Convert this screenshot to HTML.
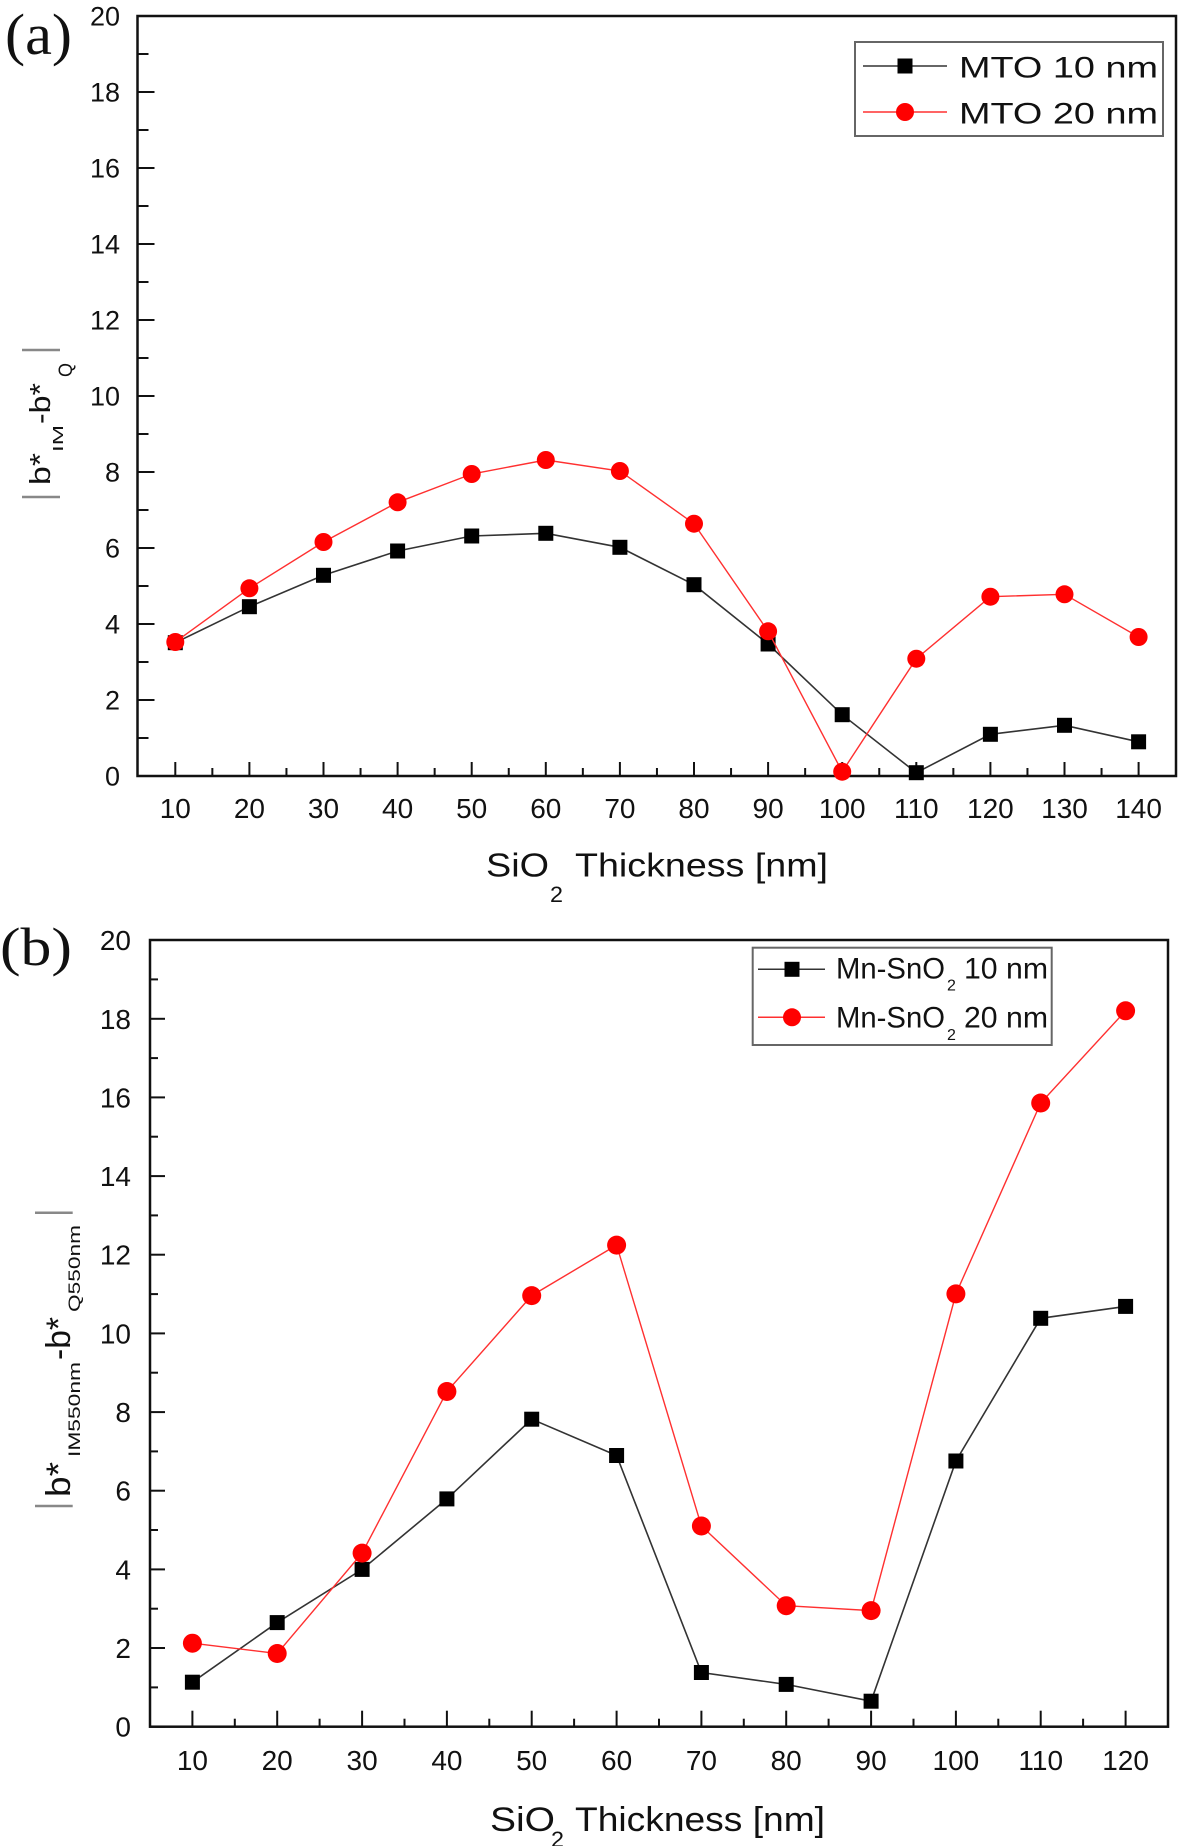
<!DOCTYPE html>
<html>
<head>
<meta charset="utf-8">
<style>
  html,body{margin:0;padding:0;background:#fff;}
  svg{display:block;}
  text{font-family:"Liberation Sans", Arial, sans-serif;fill:#111;}
  .serif{font-family:"Liberation Serif", "Times New Roman", serif;}
</style>
</head>
<body>
<svg width="1181" height="1846" viewBox="0 0 1181 1846" xmlns="http://www.w3.org/2000/svg">
  <rect x="0" y="0" width="1181" height="1846" fill="#fff"/>

  <!-- ================= PANEL (a) ================= -->
  <text class="serif" x="5" y="54" font-size="58" textLength="67" lengthAdjust="spacingAndGlyphs">(a)</text>

  <rect x="137.5" y="16" width="1038.5" height="760" fill="none" stroke="#111" stroke-width="2.5"/>

  <g stroke="#111" stroke-width="2">
    <line x1="137.5" y1="776" x2="154.5" y2="776"/>
    <line x1="137.5" y1="738" x2="148.5" y2="738"/>
    <line x1="137.5" y1="700" x2="154.5" y2="700"/>
    <line x1="137.5" y1="662" x2="148.5" y2="662"/>
    <line x1="137.5" y1="624" x2="154.5" y2="624"/>
    <line x1="137.5" y1="586" x2="148.5" y2="586"/>
    <line x1="137.5" y1="548" x2="154.5" y2="548"/>
    <line x1="137.5" y1="510" x2="148.5" y2="510"/>
    <line x1="137.5" y1="472" x2="154.5" y2="472"/>
    <line x1="137.5" y1="434" x2="148.5" y2="434"/>
    <line x1="137.5" y1="396" x2="154.5" y2="396"/>
    <line x1="137.5" y1="358" x2="148.5" y2="358"/>
    <line x1="137.5" y1="320" x2="154.5" y2="320"/>
    <line x1="137.5" y1="282" x2="148.5" y2="282"/>
    <line x1="137.5" y1="244" x2="154.5" y2="244"/>
    <line x1="137.5" y1="206" x2="148.5" y2="206"/>
    <line x1="137.5" y1="168" x2="154.5" y2="168"/>
    <line x1="137.5" y1="130" x2="148.5" y2="130"/>
    <line x1="137.5" y1="92" x2="154.5" y2="92"/>
    <line x1="137.5" y1="54" x2="148.5" y2="54"/>
  </g>
  <g stroke="#111" stroke-width="2">
    <line x1="175.3" y1="776" x2="175.3" y2="762"/>
    <line x1="249.4" y1="776" x2="249.4" y2="762"/>
    <line x1="323.5" y1="776" x2="323.5" y2="762"/>
    <line x1="397.6" y1="776" x2="397.6" y2="762"/>
    <line x1="471.7" y1="776" x2="471.7" y2="762"/>
    <line x1="545.8" y1="776" x2="545.8" y2="762"/>
    <line x1="619.9" y1="776" x2="619.9" y2="762"/>
    <line x1="694.0" y1="776" x2="694.0" y2="762"/>
    <line x1="768.1" y1="776" x2="768.1" y2="762"/>
    <line x1="842.2" y1="776" x2="842.2" y2="762"/>
    <line x1="916.3" y1="776" x2="916.3" y2="762"/>
    <line x1="990.4" y1="776" x2="990.4" y2="762"/>
    <line x1="1064.5" y1="776" x2="1064.5" y2="762"/>
    <line x1="1138.6" y1="776" x2="1138.6" y2="762"/>
    <line x1="212.35" y1="776" x2="212.35" y2="768"/>
    <line x1="286.45" y1="776" x2="286.45" y2="768"/>
    <line x1="360.55" y1="776" x2="360.55" y2="768"/>
    <line x1="434.65" y1="776" x2="434.65" y2="768"/>
    <line x1="508.75" y1="776" x2="508.75" y2="768"/>
    <line x1="582.85" y1="776" x2="582.85" y2="768"/>
    <line x1="656.95" y1="776" x2="656.95" y2="768"/>
    <line x1="731.05" y1="776" x2="731.05" y2="768"/>
    <line x1="805.15" y1="776" x2="805.15" y2="768"/>
    <line x1="879.25" y1="776" x2="879.25" y2="768"/>
    <line x1="953.35" y1="776" x2="953.35" y2="768"/>
    <line x1="1027.45" y1="776" x2="1027.45" y2="768"/>
    <line x1="1101.55" y1="776" x2="1101.55" y2="768"/>
  </g>

  <g font-size="27" text-anchor="end">
    <text x="120" y="785.5">0</text>
    <text x="120" y="709.5">2</text>
    <text x="120" y="633.5">4</text>
    <text x="120" y="557.5">6</text>
    <text x="120" y="481.5">8</text>
    <text x="120" y="405.5">10</text>
    <text x="120" y="329.5">12</text>
    <text x="120" y="253.5">14</text>
    <text x="120" y="177.5">16</text>
    <text x="120" y="101.5">18</text>
    <text x="120" y="25.5">20</text>
  </g>
  <g font-size="28" text-anchor="middle">
    <text x="175.3" y="818">10</text>
    <text x="249.4" y="818">20</text>
    <text x="323.5" y="818">30</text>
    <text x="397.6" y="818">40</text>
    <text x="471.7" y="818">50</text>
    <text x="545.8" y="818">60</text>
    <text x="619.9" y="818">70</text>
    <text x="694.0" y="818">80</text>
    <text x="768.1" y="818">90</text>
    <text x="842.2" y="818">100</text>
    <text x="916.3" y="818">110</text>
    <text x="990.4" y="818">120</text>
    <text x="1064.5" y="818">130</text>
    <text x="1138.6" y="818">140</text>
  </g>

  <text x="486" y="876.7" font-size="33" textLength="63" lengthAdjust="spacingAndGlyphs">SiO</text>
  <text x="550" y="902" font-size="22" textLength="13" lengthAdjust="spacingAndGlyphs">2</text>
  <text x="575" y="876.7" font-size="33" textLength="253" lengthAdjust="spacingAndGlyphs">Thickness [nm]</text>

  <g stroke="#888" stroke-width="2.5">
    <line x1="22" y1="350" x2="60" y2="350"/>
    <line x1="22" y1="497" x2="60" y2="497"/>
  </g>
  <text transform="translate(50,485) rotate(-90)" font-size="29" textLength="32" lengthAdjust="spacingAndGlyphs">b*</text>
  <text transform="translate(63,452) rotate(-90)" font-size="15" textLength="27" lengthAdjust="spacingAndGlyphs">IM</text>
  <text transform="translate(50,424) rotate(-90)" font-size="29" textLength="41" lengthAdjust="spacingAndGlyphs">-b*</text>
  <text transform="translate(72,377) rotate(-90)" font-size="19" textLength="14" lengthAdjust="spacingAndGlyphs">Q</text>

  <polyline fill="none" stroke="#333" stroke-width="1.6"
    points="175.3,642.7 249.4,606.7 323.5,575.3 397.6,551 471.7,536 545.8,533.3 619.9,547.3 694.0,584.7 768.1,644 842.2,714.7 916.3,772.7 990.4,734.3 1064.5,725.3 1138.6,741.8"/>
  <g fill="#000">
    <rect x="167.8" y="635.2" width="15" height="15"/>
    <rect x="241.9" y="599.2" width="15" height="15"/>
    <rect x="316.0" y="567.8" width="15" height="15"/>
    <rect x="390.1" y="543.5" width="15" height="15"/>
    <rect x="464.2" y="528.5" width="15" height="15"/>
    <rect x="538.3" y="525.8" width="15" height="15"/>
    <rect x="612.4" y="539.8" width="15" height="15"/>
    <rect x="686.5" y="577.2" width="15" height="15"/>
    <rect x="760.6" y="636.5" width="15" height="15"/>
    <rect x="834.7" y="707.2" width="15" height="15"/>
    <rect x="908.8" y="765.2" width="15" height="15"/>
    <rect x="982.9" y="726.8" width="15" height="15"/>
    <rect x="1057.0" y="717.8" width="15" height="15"/>
    <rect x="1131.1" y="734.3" width="15" height="15"/>
  </g>
  <polyline fill="none" stroke="#ff3030" stroke-width="1.4"
    points="175.3,642 249.4,588.3 323.5,542 397.6,502.3 471.7,474 545.8,460 619.9,471 694.0,523.7 768.1,631.3 842.2,771.7 916.3,658.7 990.4,596.7 1064.5,594.3 1138.6,637"/>
  <g fill="#ff0000">
    <circle cx="175.3" cy="642" r="9"/>
    <circle cx="249.4" cy="588.3" r="9"/>
    <circle cx="323.5" cy="542" r="9"/>
    <circle cx="397.6" cy="502.3" r="9"/>
    <circle cx="471.7" cy="474" r="9"/>
    <circle cx="545.8" cy="460" r="9"/>
    <circle cx="619.9" cy="471" r="9"/>
    <circle cx="694.0" cy="523.7" r="9"/>
    <circle cx="768.1" cy="631.3" r="9"/>
    <circle cx="842.2" cy="771.7" r="9"/>
    <circle cx="916.3" cy="658.7" r="9"/>
    <circle cx="990.4" cy="596.7" r="9"/>
    <circle cx="1064.5" cy="594.3" r="9"/>
    <circle cx="1138.6" cy="637" r="9"/>
  </g>

  <rect x="855" y="42" width="308" height="94" fill="#fff" stroke="#666" stroke-width="2"/>
  <line x1="863" y1="66" x2="947" y2="66" stroke="#333" stroke-width="1.5"/>
  <rect x="897.5" y="58.5" width="15" height="15" fill="#000"/>
  <line x1="863" y1="112" x2="947" y2="112" stroke="#ff3030" stroke-width="1.5"/>
  <circle cx="905" cy="112" r="9" fill="#ff0000"/>
  <text x="959" y="77.3" font-size="30" textLength="199" lengthAdjust="spacingAndGlyphs">MTO 10 nm</text>
  <text x="959" y="123.3" font-size="30" textLength="199" lengthAdjust="spacingAndGlyphs">MTO 20 nm</text>

  <!-- ================= PANEL (b) ================= -->
  <text class="serif" x="0" y="965" font-size="54" textLength="72" lengthAdjust="spacingAndGlyphs">(b)</text>

  <rect x="150" y="940" width="1018" height="786.7" fill="none" stroke="#111" stroke-width="2.5"/>

  <g stroke="#111" stroke-width="2">
    <line x1="150" y1="1726.7" x2="165" y2="1726.7"/>
    <line x1="150" y1="1687.4" x2="158" y2="1687.4"/>
    <line x1="150" y1="1648.0" x2="165" y2="1648.0"/>
    <line x1="150" y1="1608.7" x2="158" y2="1608.7"/>
    <line x1="150" y1="1569.4" x2="165" y2="1569.4"/>
    <line x1="150" y1="1530.0" x2="158" y2="1530.0"/>
    <line x1="150" y1="1490.7" x2="165" y2="1490.7"/>
    <line x1="150" y1="1451.4" x2="158" y2="1451.4"/>
    <line x1="150" y1="1412.1" x2="165" y2="1412.1"/>
    <line x1="150" y1="1372.7" x2="158" y2="1372.7"/>
    <line x1="150" y1="1333.4" x2="165" y2="1333.4"/>
    <line x1="150" y1="1294.1" x2="158" y2="1294.1"/>
    <line x1="150" y1="1254.7" x2="165" y2="1254.7"/>
    <line x1="150" y1="1215.4" x2="158" y2="1215.4"/>
    <line x1="150" y1="1176.1" x2="165" y2="1176.1"/>
    <line x1="150" y1="1136.7" x2="158" y2="1136.7"/>
    <line x1="150" y1="1097.4" x2="165" y2="1097.4"/>
    <line x1="150" y1="1058.1" x2="158" y2="1058.1"/>
    <line x1="150" y1="1018.8" x2="165" y2="1018.8"/>
    <line x1="150" y1="979.4" x2="158" y2="979.4"/>
  </g>
  <g stroke="#111" stroke-width="2">
    <line x1="192.4" y1="1726.7" x2="192.4" y2="1710.7"/>
    <line x1="277.2" y1="1726.7" x2="277.2" y2="1710.7"/>
    <line x1="362.1" y1="1726.7" x2="362.1" y2="1710.7"/>
    <line x1="446.9" y1="1726.7" x2="446.9" y2="1710.7"/>
    <line x1="531.7" y1="1726.7" x2="531.7" y2="1710.7"/>
    <line x1="616.6" y1="1726.7" x2="616.6" y2="1710.7"/>
    <line x1="701.4" y1="1726.7" x2="701.4" y2="1710.7"/>
    <line x1="786.2" y1="1726.7" x2="786.2" y2="1710.7"/>
    <line x1="871.1" y1="1726.7" x2="871.1" y2="1710.7"/>
    <line x1="955.9" y1="1726.7" x2="955.9" y2="1710.7"/>
    <line x1="1040.7" y1="1726.7" x2="1040.7" y2="1710.7"/>
    <line x1="1125.6" y1="1726.7" x2="1125.6" y2="1710.7"/>
    <line x1="234.8" y1="1726.7" x2="234.8" y2="1718.7"/>
    <line x1="319.6" y1="1726.7" x2="319.6" y2="1718.7"/>
    <line x1="404.5" y1="1726.7" x2="404.5" y2="1718.7"/>
    <line x1="489.3" y1="1726.7" x2="489.3" y2="1718.7"/>
    <line x1="574.1" y1="1726.7" x2="574.1" y2="1718.7"/>
    <line x1="659.0" y1="1726.7" x2="659.0" y2="1718.7"/>
    <line x1="743.8" y1="1726.7" x2="743.8" y2="1718.7"/>
    <line x1="828.6" y1="1726.7" x2="828.6" y2="1718.7"/>
    <line x1="913.5" y1="1726.7" x2="913.5" y2="1718.7"/>
    <line x1="998.3" y1="1726.7" x2="998.3" y2="1718.7"/>
    <line x1="1083.1" y1="1726.7" x2="1083.1" y2="1718.7"/>
  </g>

  <g font-size="28" text-anchor="end">
    <text x="131" y="1736.7">0</text>
    <text x="131" y="1658.0">2</text>
    <text x="131" y="1579.4">4</text>
    <text x="131" y="1500.7">6</text>
    <text x="131" y="1422.1">8</text>
    <text x="131" y="1343.4">10</text>
    <text x="131" y="1264.7">12</text>
    <text x="131" y="1186.1">14</text>
    <text x="131" y="1107.4">16</text>
    <text x="131" y="1028.8">18</text>
    <text x="131" y="950.1">20</text>
  </g>
  <g font-size="28" text-anchor="middle">
    <text x="192.4" y="1770">10</text>
    <text x="277.2" y="1770">20</text>
    <text x="362.1" y="1770">30</text>
    <text x="446.9" y="1770">40</text>
    <text x="531.7" y="1770">50</text>
    <text x="616.6" y="1770">60</text>
    <text x="701.4" y="1770">70</text>
    <text x="786.2" y="1770">80</text>
    <text x="871.1" y="1770">90</text>
    <text x="955.9" y="1770">100</text>
    <text x="1040.7" y="1770">110</text>
    <text x="1125.6" y="1770">120</text>
  </g>

  <text x="490" y="1831" font-size="34" textLength="65" lengthAdjust="spacingAndGlyphs">SiO</text>
  <text x="551" y="1847" font-size="22" textLength="13" lengthAdjust="spacingAndGlyphs">2</text>
  <text x="575" y="1831" font-size="34" textLength="250" lengthAdjust="spacingAndGlyphs">Thickness [nm]</text>

  <g stroke="#888" stroke-width="2.5">
    <line x1="35" y1="1212.7" x2="72.7" y2="1212.7"/>
    <line x1="35" y1="1506" x2="72.7" y2="1506"/>
  </g>
  <text transform="translate(70,1497) rotate(-90)" font-size="34" textLength="35" lengthAdjust="spacingAndGlyphs">b*</text>
  <text transform="translate(80,1457) rotate(-90)" font-size="17" textLength="95" lengthAdjust="spacingAndGlyphs">IM550nm</text>
  <text transform="translate(70,1360) rotate(-90)" font-size="34" textLength="43" lengthAdjust="spacingAndGlyphs">-b*</text>
  <text transform="translate(80,1312) rotate(-90)" font-size="17" textLength="87" lengthAdjust="spacingAndGlyphs">Q550nm</text>

  <polyline fill="none" stroke="#333" stroke-width="1.6"
    points="192.4,1682.2 277.2,1622.6 362.1,1569.4 446.9,1498.9 531.7,1419.2 616.6,1455.5 701.4,1672.5 786.2,1684.4 871.1,1701.2 955.9,1461 1040.7,1318.3 1125.6,1306.4"/>
  <g fill="#000">
    <rect x="184.9" y="1674.7" width="15" height="15"/>
    <rect x="269.7" y="1615.1" width="15" height="15"/>
    <rect x="354.6" y="1561.9" width="15" height="15"/>
    <rect x="439.4" y="1491.4" width="15" height="15"/>
    <rect x="524.2" y="1411.7" width="15" height="15"/>
    <rect x="609.1" y="1448.0" width="15" height="15"/>
    <rect x="693.9" y="1665.0" width="15" height="15"/>
    <rect x="778.7" y="1676.9" width="15" height="15"/>
    <rect x="863.6" y="1693.7" width="15" height="15"/>
    <rect x="948.4" y="1453.5" width="15" height="15"/>
    <rect x="1033.2" y="1310.8" width="15" height="15"/>
    <rect x="1118.1" y="1298.9" width="15" height="15"/>
  </g>
  <polyline fill="none" stroke="#ff3030" stroke-width="1.4"
    points="192.4,1643.2 277.2,1653.5 362.1,1553.1 446.9,1391.5 531.7,1295.6 616.6,1245.1 701.4,1526 786.2,1605.7 871.1,1610.6 955.9,1293.9 1040.7,1103 1125.6,1010.8"/>
  <g fill="#ff0000">
    <circle cx="192.4" cy="1643.2" r="9.5"/>
    <circle cx="277.2" cy="1653.5" r="9.5"/>
    <circle cx="362.1" cy="1553.1" r="9.5"/>
    <circle cx="446.9" cy="1391.5" r="9.5"/>
    <circle cx="531.7" cy="1295.6" r="9.5"/>
    <circle cx="616.6" cy="1245.1" r="9.5"/>
    <circle cx="701.4" cy="1526" r="9.5"/>
    <circle cx="786.2" cy="1605.7" r="9.5"/>
    <circle cx="871.1" cy="1610.6" r="9.5"/>
    <circle cx="955.9" cy="1293.9" r="9.5"/>
    <circle cx="1040.7" cy="1103" r="9.5"/>
    <circle cx="1125.6" cy="1010.8" r="9.5"/>
  </g>

  <rect x="752.7" y="947.7" width="299" height="97.3" fill="#fff" stroke="#666" stroke-width="2"/>
  <line x1="758" y1="969.3" x2="825" y2="969.3" stroke="#333" stroke-width="1.5"/>
  <rect x="784.5" y="961.8" width="15" height="15" fill="#000"/>
  <line x1="758" y1="1017.3" x2="825" y2="1017.3" stroke="#ff3030" stroke-width="1.5"/>
  <circle cx="792" cy="1017.3" r="9" fill="#ff0000"/>
  <text x="836" y="978.3" font-size="30" textLength="109" lengthAdjust="spacingAndGlyphs">Mn-SnO</text>
  <text x="947" y="990.7" font-size="16">2</text>
  <text x="964" y="978.3" font-size="30" textLength="84" lengthAdjust="spacingAndGlyphs">10 nm</text>
  <text x="836" y="1027.7" font-size="30" textLength="109" lengthAdjust="spacingAndGlyphs">Mn-SnO</text>
  <text x="947" y="1040" font-size="16">2</text>
  <text x="964" y="1027.7" font-size="30" textLength="84" lengthAdjust="spacingAndGlyphs">20 nm</text>
</svg>
</body>
</html>
